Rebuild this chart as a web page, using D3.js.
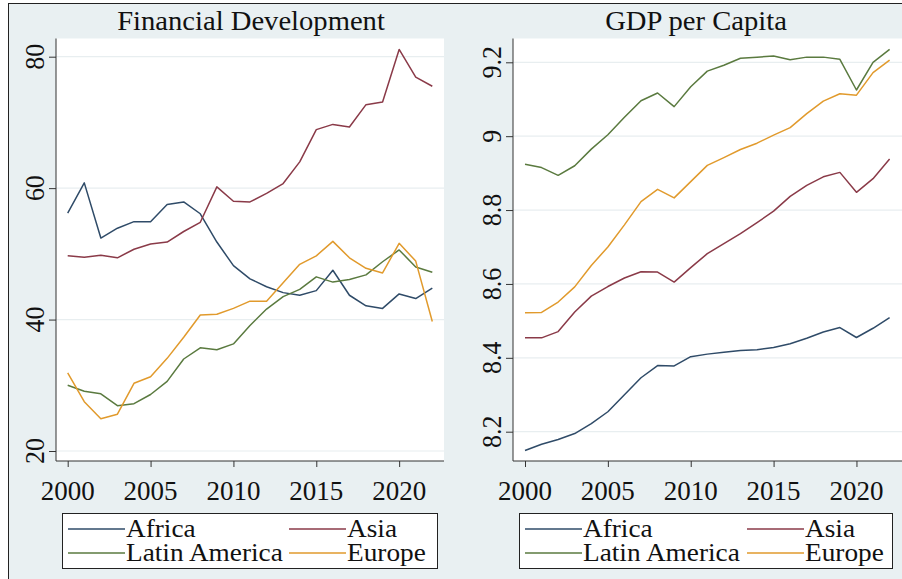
<!DOCTYPE html>
<html><head><meta charset="utf-8">
<script src="https://cdn.jsdelivr.net/npm/d3@7"></script>
<style>html,body{margin:0;padding:0;background:#fff;} svg{display:block;}</style>
</head><body>
<svg id="chart" width="902" height="579"></svg>
<script>
const years = d3.range(2000, 2023);
const regions = ["Africa", "Asia", "Latin America", "Europe"];
const colors = ["#2f4b68", "#8a3a48", "#5a7a3f", "#e19a2c"];

// Financial Development
const fdAfrica = [56.2,60.8,52.4,53.9,54.9,54.9,57.5,57.9,56.1,51.8,48.2,46.2,45.0,44.1,43.7,44.4,47.5,43.7,42.1,41.7,43.9,43.2,44.8];
const fdAsia   = [49.7,49.5,49.8,49.4,50.7,51.5,51.8,53.4,54.8,60.2,58.0,57.9,59.2,60.7,64.0,68.9,69.7,69.3,72.7,73.1,81.1,76.9,75.5];
const fdLatAm  = [30.0,29.1,28.7,26.9,27.2,28.6,30.6,34.0,35.7,35.4,36.3,39.1,41.6,43.5,44.6,46.5,45.7,46.1,46.8,48.8,50.6,48.0,47.2];
const fdEurope = [31.9,27.5,24.9,25.6,30.3,31.3,34.1,37.3,40.7,40.8,41.7,42.8,42.8,45.6,48.4,49.7,51.9,49.4,47.8,47.1,51.6,48.9,39.7];

// GDP per Capita (log)
const gdpAfrica = [8.149,8.166,8.179,8.195,8.222,8.254,8.300,8.346,8.379,8.378,8.403,8.410,8.415,8.420,8.422,8.428,8.438,8.453,8.470,8.482,8.455,8.480,8.509];
const gdpAsia   = [8.454,8.454,8.471,8.524,8.567,8.593,8.616,8.633,8.632,8.605,8.644,8.682,8.709,8.736,8.766,8.797,8.837,8.867,8.890,8.902,8.848,8.885,8.938];
const gdpLatAm  = [8.924,8.915,8.894,8.920,8.965,9.004,9.051,9.096,9.117,9.080,9.134,9.176,9.192,9.211,9.214,9.217,9.207,9.214,9.214,9.208,9.125,9.200,9.235];
const gdpEurope = [8.522,8.523,8.551,8.592,8.650,8.700,8.760,8.823,8.856,8.833,8.877,8.921,8.942,8.964,8.981,9.003,9.023,9.061,9.095,9.115,9.111,9.172,9.206];

const xTicks = [2000, 2005, 2010, 2015, 2020];
const fdTicks = [20, 40, 60, 80];
const gdpTicks = [8.2, 8.4, 8.6, 8.8, 9, 9.2];

const FONT = "'Liberation Serif','Times New Roman',serif";

const svg = d3.select("#chart");
svg.append("rect").attr("x", 8.5).attr("y", 3.5).attr("width", 1000).attr("height", 1000)
  .attr("fill", "#e9f0f2").attr("stroke", "#222").attr("stroke-width", 1);

function stxt(g, x, y, s, anchor, size, sx, rot) {
  const t = g.append("g").attr("transform", `translate(${x},${y}) scale(${sx},1)` + (rot ? ` rotate(${rot})` : ""));
  return t.append("text").attr("text-anchor", anchor).attr("font-family", FONT)
    .attr("font-size", size).attr("fill", "#111").text(s);
}

function panel(opts) {
  const g = svg.append("g");
  const {px0, px1, py0, py1, x0, x1, y, title, titleX, series, ticks, fmt, legend} = opts;
  const x = d3.scaleLinear().domain([2000, 2022]).range([x0, x1]);
  g.append("rect").attr("x", px0).attr("y", py0).attr("width", px1 - px0).attr("height", py1 - py0).attr("fill", "#fff");
  g.selectAll(".grid").data(ticks).enter().append("line")
    .attr("x1", px0).attr("x2", px1).attr("y1", d => y(d)).attr("y2", d => y(d))
    .attr("stroke", "#e8eef0").attr("stroke-width", 1.2);
  const ya = g.append("g").attr("transform", `translate(${px0},0)`)
    .call(d3.axisLeft(y).tickValues(ticks).tickSize(7).tickFormat(""));
  ya.select(".domain").attr("d", `M0,${py0}V${py1}`).attr("stroke", "#333");
  ya.selectAll(".tick line").attr("stroke", "#333");
  const xa = g.append("g").attr("transform", `translate(0,${py1})`)
    .call(d3.axisBottom(x).tickValues(xTicks).tickSize(6).tickFormat(""));
  xa.select(".domain").attr("d", `M${px0},0H${px1}`).attr("stroke", "#333");
  xa.selectAll(".tick line").attr("stroke", "#333");
  ticks.forEach(t => stxt(g, px0 - 12, y(t), fmt(t), "middle", 26, 1.08, -90));
  xTicks.forEach(t => stxt(g, x(t), py1 + 39, String(t), "middle", 27, 1.0));
  stxt(g, titleX, 30, title, "middle", 27, 1.06);
  const line = d3.line().x((d, i) => x(years[i])).y(d => y(d));
  series.forEach((s, i) => {
    g.append("path").datum(s).attr("d", line).attr("fill", "none")
      .attr("stroke", colors[i]).attr("stroke-width", 1.5).attr("stroke-linejoin", "round");
  });
  const L = legend;
  g.append("rect").attr("x", L.x0 + 0.5).attr("y", 513.5).attr("width", L.x1 - L.x0).attr("height", 55)
    .attr("fill", "#fff").attr("stroke", "#222").attr("stroke-width", 1);
  const pos = [[L.c1, 529], [L.c2, 529], [L.c1, 553], [L.c2, 553]];
  regions.forEach((r, i) => {
    const [cx, cy] = pos[i];
    g.append("line").attr("x1", cx).attr("x2", cx + 57).attr("y1", cy).attr("y2", cy)
      .attr("stroke", colors[i]).attr("stroke-width", 1.3);
    stxt(g, cx + 58, cy + 8, r, "start", 26, 1.05);
  });
}

panel({
  px0: 56, px1: 444, py0: 38.5, py1: 461, x0: 67.7, x1: 432.3,
  y: d3.scaleLinear().domain([20, 80]).range([451, 56.7]),
  title: "Financial Development", titleX: 251,
  series: [fdAfrica, fdAsia, fdLatAm, fdEurope], ticks: fdTicks, fmt: d => String(d),
  legend: {x0: 62, x1: 437, c1: 68, c2: 289}
});
panel({
  px0: 513, px1: 902, py0: 38.5, py1: 461, x0: 525, x1: 889.6,
  y: d3.scaleLinear().domain([8.2, 9.2]).range([431.7, 62.3]),
  title: "GDP per Capita", titleX: 696,
  series: [gdpAfrica, gdpAsia, gdpLatAm, gdpEurope], ticks: gdpTicks, fmt: d => d3.format("~g")(d),
  legend: {x0: 519, x1: 892, c1: 525, c2: 747}
});
</script>
</body></html>
